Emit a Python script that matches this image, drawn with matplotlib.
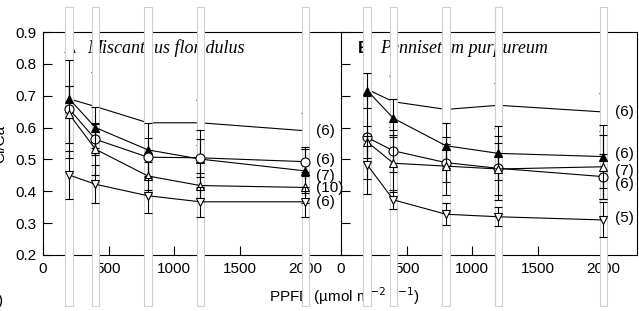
import matplotlib
matplotlib.use('Agg')
import matplotlib.pyplot as plt
from matplotlib.patches import Rectangle
import matplotlib.transforms as mtrans

plt.rcParams['font.family'] = ['Liberation Sans', 'DejaVu Sans']

ppfd = [200, 400, 800, 1200, 2000]
xticks = [0, 500, 1000, 1500, 2000]
yticks = [0.2, 0.3, 0.4, 0.5, 0.6, 0.7, 0.8, 0.9]

# Panel A: Miscanthus floridulus
a_top = [0.69, 0.666, 0.615, 0.615, 0.59]
a_top_err = [0.10, 0.11, 0.08, 0.07, 0.056]
a_fill = [0.69, 0.60, 0.53, 0.501, 0.464]
a_fill_err = [0.04, 0.065, 0.085, 0.09, 0.07]
a_circ = [0.658, 0.563, 0.507, 0.505, 0.493]
a_circ_err = [0.155, 0.05, 0.06, 0.06, 0.045]
a_up = [0.642, 0.532, 0.448, 0.418, 0.412]
a_up_err = [0.09, 0.08, 0.045, 0.04, 0.05]
a_down = [0.451, 0.422, 0.386, 0.367, 0.367]
a_down_err = [0.075, 0.06, 0.055, 0.047, 0.047]
# sample sizes, order: top, filled triangle, circle, up triangle, down triangle
a_n = ['(6)', '(7)', '(6)', '(10)', '(6)']

# Panel B: Pennisetum purpureum
b_top = [0.72, 0.681, 0.657, 0.67, 0.649]
b_top_err = [0.09, 0.08, 0.07, 0.07, 0.06]
b_fill = [0.716, 0.629, 0.543, 0.519, 0.509]
b_fill_err = [0.055, 0.06, 0.07, 0.085, 0.10]
b_circ = [0.569, 0.527, 0.49, 0.472, 0.446]
b_circ_err = [0.13, 0.065, 0.06, 0.10, 0.07]
b_up = [0.555, 0.488, 0.479, 0.47, 0.477]
b_up_err = [0.05, 0.09, 0.09, 0.083, 0.10]
b_down = [0.483, 0.373, 0.328, 0.32, 0.31]
b_down_err = [0.09, 0.03, 0.035, 0.03, 0.055]
b_n = ['(6)', '(6)', '(6)', '(7)', '(5)']

W, H = 639, 311
fig = plt.figure(figsize=(W / 100, H / 100), dpi=100)

def fx(px):
    return px / W

def fy(py):
    return 1 - py / H

ax_b = fy(255)
ax_h = fy(32) - fy(255)
axA = fig.add_axes([fx(43), ax_b, fx(298), ax_h])
axB = fig.add_axes([fx(341), ax_b, fx(296), ax_h])
axB.set_facecolor('none')

lw = 0.8
ekw = dict(color='k', lw=lw, capsize=3, capthick=lw, elinewidth=lw)


def panel(ax, xmax, top, top_err, fill, fill_err, circ, circ_err, up, up_err,
          down, down_err, ns, n_offsets, letter, name, lx, nx, show_ylabels):
    ax.set_xlim(0, xmax)
    ax.set_ylim(0.2, 0.9)
    ax.set_xticks(xticks)
    ax.set_yticks(yticks)
    ax.tick_params(direction='in', length=6.5, width=lw, labelsize=11,
                   top=False, right=False)
    ax.tick_params(axis='x', pad=5)
    ax.tick_params(axis='y', pad=5)
    if not show_ylabels:
        ax.set_yticklabels([])
    for s in ax.spines.values():
        s.set_linewidth(lw)
    # top series (under occluding bars)
    ax.errorbar(ppfd, top, yerr=top_err, fmt='-', zorder=1.8, **ekw)
    # occluding bars
    tr = mtrans.blended_transform_factory(ax.transData, fig.transFigure)
    for v in ppfd:
        ax.add_patch(Rectangle((v - 29, fy(306)), 58, fy(7) - fy(306),
                               transform=tr, facecolor='white',
                               edgecolor='#cfcfcf', lw=0.8, clip_on=False,
                               zorder=3))
    ax.errorbar(ppfd, fill, yerr=fill_err, fmt='-^', ms=6, mfc='k', mec='k',
                mew=lw, zorder=4, **ekw)
    ax.errorbar(ppfd, circ, yerr=circ_err, fmt='-o', ms=6.5, mfc='white',
                mec='k', mew=lw, zorder=4.2, **ekw)
    ax.errorbar(ppfd, up, yerr=up_err, fmt='-^', ms=6, mfc='white', mec='k',
                mew=lw, zorder=4.4, **ekw)
    ax.errorbar(ppfd, down, yerr=down_err, fmt='-v', ms=6, mfc='white',
                mec='k', mew=lw, zorder=4.6, **ekw)
    last = [top[-1], fill[-1], circ[-1], up[-1], down[-1]]
    for n, yv, off in zip(ns, last, n_offsets):
        ax.text(nx, yv + off, n, fontsize=11, ha='left', va='center',
                clip_on=False, zorder=5)
    ax.text(lx[0], 0.928, letter, transform=ax.transAxes, fontsize=12,
            fontweight='bold', ha='left', va='center', zorder=2)
    ax.text(lx[1], 0.928, name, transform=ax.transAxes, fontsize=13,
            family='Liberation Serif', style='italic', ha='left',
            va='center', zorder=2)


panel(axA, 2272, a_top, a_top_err, a_fill, a_fill_err, a_circ, a_circ_err,
      a_up, a_up_err, a_down, a_down_err, a_n,
      [0.0, -0.016, 0.004, -0.002, -0.001], 'A', 'Miscanthus floridulus',
      (0.07, 0.148), 2085, True)
axA.spines['right'].set_visible(False)

panel(axB, 2256, b_top, b_top_err, b_fill, b_fill_err, b_circ, b_circ_err,
      b_up, b_up_err, b_down, b_down_err, b_n,
      [0.0, 0.008, -0.024, -0.012, 0.005], 'B', 'Pennisetum purpureum',
      (0.057, 0.132), 2090, False)

# x label (in panel A so panel B's bars draw over it)
axA.text(fx(344), fy(296), 'PPFD (\u00b5mol m$^{-2}$ s$^{-1}$)',
         transform=fig.transFigure, fontsize=11, ha='center', va='center',
         clip_on=False, zorder=2)

fig.text(0.0, fy(143.5), 'Ci/Ca', rotation=90, fontsize=11, ha='center',
         va='center')
fig.text(0.0, fy(301), ')', fontsize=11, ha='center', va='center')

fig.savefig('out.png', dpi=100)
